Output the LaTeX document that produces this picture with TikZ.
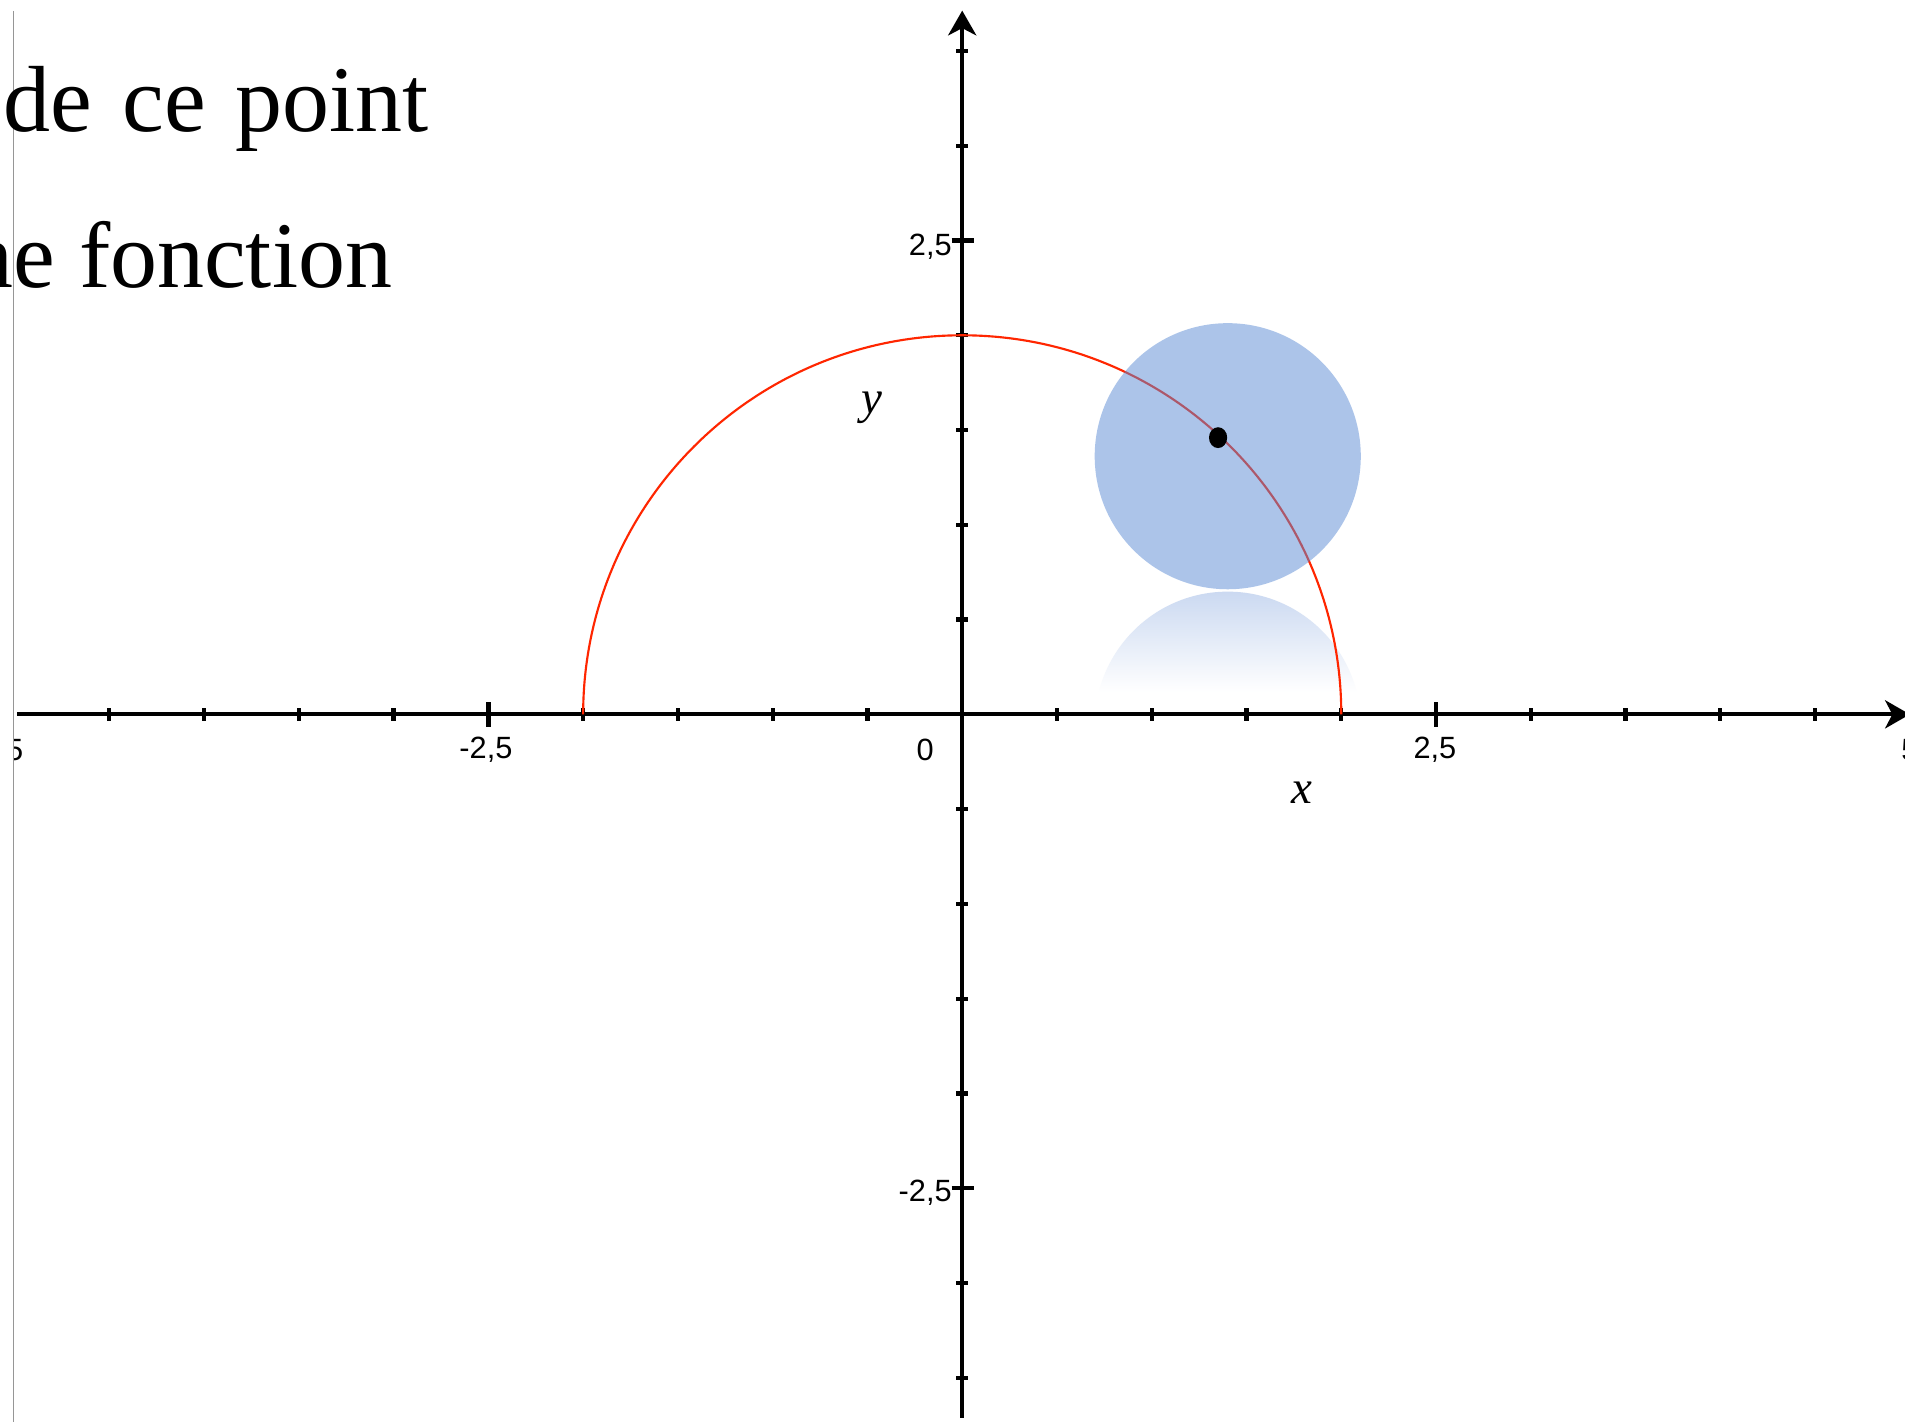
\documentclass[tikz,border=0pt]{standalone}
\usepackage{fontspec}
\setmainfont{Liberation Serif}
\newfontfamily\lsans{Liberation Sans}
\usetikzlibrary{arrows.meta}
\definecolor{arcred}{RGB}{255,38,0}
\definecolor{discblue}{RGB}{91,139,213}
\definecolor{refltop}{RGB}{203,217,241}
\definecolor{guidegray}{RGB}{150,150,150}
\tikzset{
  axisline/.style={line width=0.9pt, black, -{Stealth[length=5.8pt, width=6.6pt, inset=1.7pt]}},
  minortick/.style={line width=1pt, black},
  majortick/.style={line width=1pt, black},
  ticklabel/.style={font=\lsans\fontsize{7.2}{8}\selectfont, inner sep=0pt},
  axislabel/.style={font=\itshape\fontsize{11}{13}\selectfont, inner sep=0pt, anchor=base},
  bigtext/.style={font=\fontsize{22}{26}\selectfont, inner sep=0pt}
}
\begin{document}
\begin{tikzpicture}[x=1.56cm,y=1.56cm]
\useasboundingbox (-5.0769,-3.7308) rectangle (4.9744,3.7692);
\fill[white] (-5.0769,-3.7308) rectangle (4.9744,3.7692);
\clip (-5.0769,-3.7308) rectangle (4.9744,3.7692);

\begin{scope}
\clip (-5.006,-3.8) rectangle (5.2,3.8);
% reflection of the disc
\begin{scope}
  \clip (1.401,-0.0545) circle (0.702);
  \shade[top color=refltop, bottom color=white] (0.6,0.118) rectangle (2.2,0.647);
\end{scope}

% axes
\coordinate (xstart) at (-4.987,0);
\coordinate (xend) at (5.0,0);
\coordinate (ystart) at (0,-3.71);
\coordinate (yend) at (0,3.713);
\draw[axisline] (xstart) -- (xend);
\draw[axisline] (ystart) -- (yend);

\foreach \t in {-4.5,-4,-3.5,-3,-2,-1.5,-1,-0.5,0.5,1,1.5,2,3,3.5,4,4.5}
  \draw[minortick] (\t,-0.033) -- (\t,0.033);
\foreach \t in {-2.5,2.5}
  \draw[majortick] (\t,-0.066) -- (\t,0.066);
\foreach \t in {-3.5,-3,-2,-1.5,-1,-0.5,0.5,1,1.5,2,3,3.5}
  \draw[minortick] (-0.032,\t) -- (0.032,\t);
\foreach \t in {-2.5,2.5}
  \draw[majortick] (-0.056,\t) -- (0.06,\t);

% tick labels
\node[ticklabel] (lxm5) at (-5.0,-0.186) {5};
\node[ticklabel] (lxm25) at (-2.513,-0.186) {-2,5};
\node[ticklabel] (lx0) at (-0.196,-0.189) {0};
\node[ticklabel] (lx25) at (2.494,-0.186) {2,5};
\node[ticklabel] (lx5) at (5.0,-0.186) {5};
\node[ticklabel, anchor=east] (ly25) at (-0.051,2.468) {2,5};
\node[ticklabel, anchor=east] (lym25) at (-0.051,-2.526) {-2,5};

% axis names
\node[axislabel] (xname) at (1.792,-0.468) {x};
\node[axislabel] (yname) at (-0.474,1.59) {y};

% semicircle
\draw[arcred, line width=0.5pt] (2,0) arc[start angle=0, end angle=180, radius=2];

% disc and point
\fill[discblue, fill opacity=0.5] (1.401,1.362) circle (0.702);
\fill[black] (1.35,1.46) ellipse [x radius=0.048, y radius=0.055];
\end{scope}

% guide line and text
\draw[guidegray, line width=0.3pt] (-5.006,3.712) -- (-5.006,-3.8);
\node[bigtext, anchor=base west] (line1) at (-5.061,3.073) {de\hspace{7pt}ce\hspace{7pt}point};
\node[bigtext, anchor=base east] (line2) at (-3.003,2.25) {ne fonction};
\end{tikzpicture}
\end{document}
